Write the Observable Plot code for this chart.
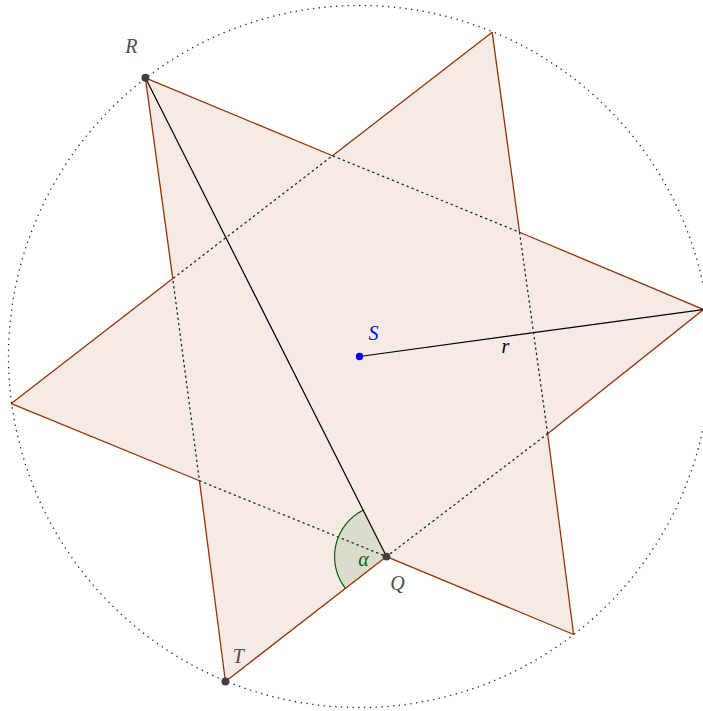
<!DOCTYPE html>
<html><head><meta charset="utf-8">
<script src="https://cdn.jsdelivr.net/npm/d3@7"></script>
<script src="https://cdn.jsdelivr.net/npm/@observablehq/plot@0.6"></script>
<style>body{margin:0;background:#fff}</style>
</head><body><div id="chart"></div>
<script>
// Geometry (units: circle radius = 5, centre S at origin)
const center = {name: "S", x: 0, y: 0};
const radius = 5;
// star boundary, alternating outer tip / inner corner, starting at right tip
const starNames = ["P1","I1","P2","Q","T","I3","P4","I4","R","I5","P6","I6"];
const starX = [4.90, 2.68, 3.05, 0.385, -1.91, -2.28, -4.96, -2.66, -3.05, -0.385, 1.89, 2.28];
const starY = [0.67, -1.10, -3.96, -2.85, -4.63, -1.77, -0.67, 1.11, 3.97, 2.86, 4.62, 1.77];
// labelled points
const ptNames = ["R", "T", "Q"];
const ptX = [-3.05, -1.91, 0.385];
const ptY = [3.97, -4.63, -2.85];
// angle alpha at Q (degrees, from ray Q→R to ray Q→T), arc radius
const alphaStart = 116.7, alphaEnd = 217.8, alphaRadius = 0.74;

const pxPerUnit = 70.2;
const star = starNames.map((n, i) => ({name: n, x: starX[i], y: starY[i]}));
const starClosed = [...star, star[0]];
const inner = star.filter((d, i) => i % 2 === 1);
const innerClosed = [...inner, inner[0]];
const pts = ptNames.map((n, i) => ({name: n, x: ptX[i], y: ptY[i]}));
const P = Object.fromEntries(pts.map(d => [d.name, d]));
const tipRight = star[0];

const arcPts = d3.range(alphaStart, alphaEnd + 0.01, 1).map(a => ({
  x: P.Q.x + alphaRadius * Math.cos(a * Math.PI / 180),
  y: P.Q.y + alphaRadius * Math.sin(a * Math.PI / 180)
}));
const sector = [{x: P.Q.x, y: P.Q.y}, ...arcPts, {x: P.Q.x, y: P.Q.y}];

const labelFont = "'Liberation Serif', 'DejaVu Serif', serif";
const lbl = {fontSize: 20, fontStyle: "italic", fontFamily: labelFont};
const chart = Plot.plot({
  width: 703, height: 711, margin: 0,
  x: {domain: [-359 / pxPerUnit, 344 / pxPerUnit], axis: null},
  y: {domain: [-355 / pxPerUnit, 356 / pxPerUnit], axis: null},
  r: {type: "linear", domain: [0, 1], range: [0, pxPerUnit], clamp: false},
  marks: [
    Plot.line(starClosed, {x: "x", y: "y", fill: "#993300", fillOpacity: 0.1, stroke: "#993300", strokeWidth: 1.3, strokeLinejoin: "miter"}),
    Plot.line(innerClosed, {x: "x", y: "y", stroke: "#222", strokeWidth: 1.3, strokeDasharray: "1.3,4"}),
    Plot.dot([center], {x: "x", y: "y", r: () => radius, stroke: "#222", strokeWidth: 1.3, strokeDasharray: "1.3,4.5", fill: "none"}),
    Plot.line(sector, {x: "x", y: "y", fill: "#006400", fillOpacity: 0.1, stroke: "none"}),
    Plot.line(arcPts, {x: "x", y: "y", stroke: "#006400", strokeWidth: 1.2}),
    Plot.line([P.R, P.Q], {x: "x", y: "y", stroke: "#000", strokeWidth: 1.2}),
    Plot.line([center, tipRight], {x: "x", y: "y", stroke: "#000", strokeWidth: 1.2}),
    Plot.dot(pts, {x: "x", y: "y", r: () => 0.056, fill: "#404040", stroke: "none"}),
    Plot.dot([center], {x: "x", y: "y", r: () => 0.052, fill: "#0000ff", stroke: "none"}),
    Plot.text([P.R], {x: "x", y: "y", text: "name", dx: -14, dy: -31, fill: "#4d4d4d", ...lbl}),
    Plot.text([P.T], {x: "x", y: "y", text: "name", dx: 13, dy: -25, fill: "#4d4d4d", ...lbl}),
    Plot.text([P.Q], {x: "x", y: "y", text: "name", dx: 11, dy: 27, fill: "#4d4d4d", ...lbl}),
    Plot.text([center], {x: "x", y: "y", text: "name", dx: 14, dy: -23, fill: "#0000ff", ...lbl}),
    Plot.text([P.Q], {x: "x", y: "y", text: () => "α", dx: -23, dy: 3, fill: "#006400", ...lbl}),
    Plot.text([{x: (center.x + tipRight.x) / 2, y: (center.y + tipRight.y) / 2}], {x: "x", y: "y", text: () => "r", dx: -26, dy: 14, fill: "#000", ...lbl})
  ]
});
document.getElementById("chart").appendChild(chart);
</script>
</body></html>
